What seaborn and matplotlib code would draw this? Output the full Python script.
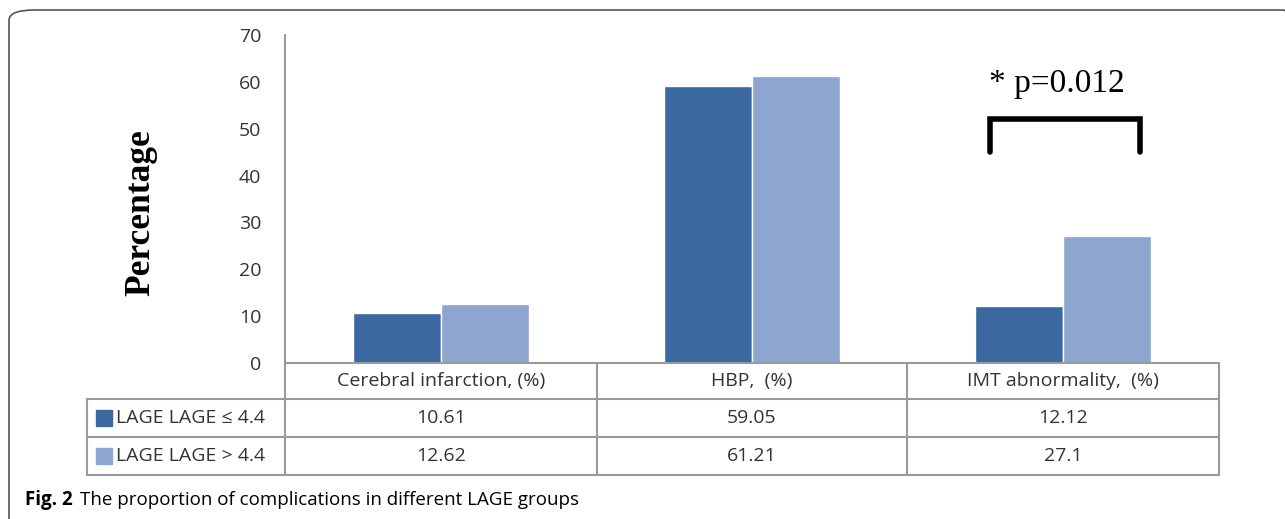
import pandas as pd
import matplotlib.pyplot as plt
import seaborn as sns
from matplotlib.patches import FancyBboxPatch, Rectangle
from matplotlib.lines import Line2D

# data
categories = ["Cerebral infarction, (%)", "HBP,  (%)", "IMT abnormality,  (%)"]
groups = ["LAGE LAGE \u2264 4.4", "LAGE LAGE > 4.4"]
low_lage = [10.61, 59.05, 12.12]
high_lage = [12.62, 61.21, 27.1]
value_labels = [["10.61", "59.05", "12.12"], ["12.62", "61.21", "27.1"]]

sns.set_theme(style="white")
plt.rcParams['font.family'] = ['Open Sans', 'DejaVu Sans']
colors = ['#3B68A0', '#8EA5CF']
grid_col = '#9a9a9a'
txt_col = '#333333'

df = pd.DataFrame({
    "Category": categories * 2,
    "Group": [groups[0]] * 3 + [groups[1]] * 3,
    "Value": low_lage + high_lage,
})

W, H = 1285, 519
fig = plt.figure(figsize=(W / 100, H / 100), dpi=100)

def fx(px):
    return px / W

def fy(py):
    return 1 - py / H

# plot area in pixel coords
x0, x1, y_top, y_zero = 285, 1219, 35, 363
ax = fig.add_axes([fx(x0), fy(y_zero), fx(x1) - fx(x0), fy(y_top) - fy(y_zero)])
sns.barplot(data=df, x="Category", y="Value", hue="Group", palette=colors,
            width=0.565, saturation=1, ax=ax, legend=False)
ax.set_xlim(-0.5, 2.5)
ax.set_ylim(0, 70)
ax.set_yticks(range(0, 71, 10))
ax.tick_params(axis='y', length=0, pad=17, labelsize=14, labelcolor=txt_col)
ax.set_xticks([])
ax.set_xlabel("")
ax.set_ylabel("")
for side in ["top", "right", "bottom"]:
    ax.spines[side].set_visible(False)
ax.spines["left"].set_color(grid_col)
ax.spines["left"].set_linewidth(1.3)

# significance bracket
ax.plot([2 - 0.235, 2 - 0.235, 2 + 0.247, 2 + 0.247], [45, 52.1, 52.1, 45],
        color='black', lw=4, solid_joinstyle='miter', clip_on=False)
ax.text(2 - 0.24, 59.6, "* p=0.012", fontsize=24, family=['Liberation Serif'],
        ha='left', va='center', color='black')

# y label
fig.text(fx(141), fy(213), "Percentage", rotation=90, fontsize=25.5, fontweight='bold',
         family=['Liberation Serif'], ha='center', va='center', color='black')

# data table under the axis
def hline(py, xa, xb):
    fig.add_artist(Line2D([fx(xa), fx(xb)], [fy(py), fy(py)], color=grid_col, lw=1.5))

def vline(px, ya, yb):
    fig.add_artist(Line2D([fx(px), fx(px)], [fy(ya), fy(yb)], color=grid_col, lw=1.5))

row_y = [363, 399, 437, 475]
col_x = [x0, 597, 907, x1]
tbl_left = 87
hline(row_y[0], x0, x1)
for py in row_y[1:]:
    hline(py, tbl_left, x1)
vline(tbl_left, row_y[1], row_y[3])
vline(x0, y_top, row_y[3])
for px in col_x[1:]:
    vline(px, row_y[0], row_y[3])

for i, cat in enumerate(categories):
    cx = (col_x[i] + col_x[i + 1]) / 2
    fig.text(fx(cx), fy((row_y[0] + row_y[1]) / 2), cat, fontsize=14,
             ha='center', va='center', color=txt_col)
    for r in range(2):
        fig.text(fx(cx), fy((row_y[r + 1] + row_y[r + 2]) / 2), value_labels[r][i],
                 fontsize=14, ha='center', va='center', color=txt_col)

for r, g in enumerate(groups):
    cy = (row_y[r + 1] + row_y[r + 2]) / 2
    fig.add_artist(Rectangle((fx(96), fy(cy + 8)), fx(16), fy(0) - fy(16),
                             color=colors[r], transform=fig.transFigure))
    fig.text(fx(116), fy(cy), g, fontsize=14, ha='left', va='center', color=txt_col)

# caption
fig.text(fx(25), fy(500), "Fig. 2", fontsize=13.5, fontweight='bold',
         ha='left', va='center', color='black')
fig.text(fx(80), fy(500), "The proportion of complications in different LAGE groups",
         fontsize=13.5, ha='left', va='center', color='black')

# rounded frame, running off the right and bottom edges
fig.add_artist(FancyBboxPatch((fx(9), fy(540)), fx(1300), fy(0) - fy(530),
                              boxstyle="round,pad=0,rounding_size=0.02",
                              fill=False, ec='#555555', lw=1.2,
                              transform=fig.transFigure))

fig.savefig("out.png", dpi=100)
